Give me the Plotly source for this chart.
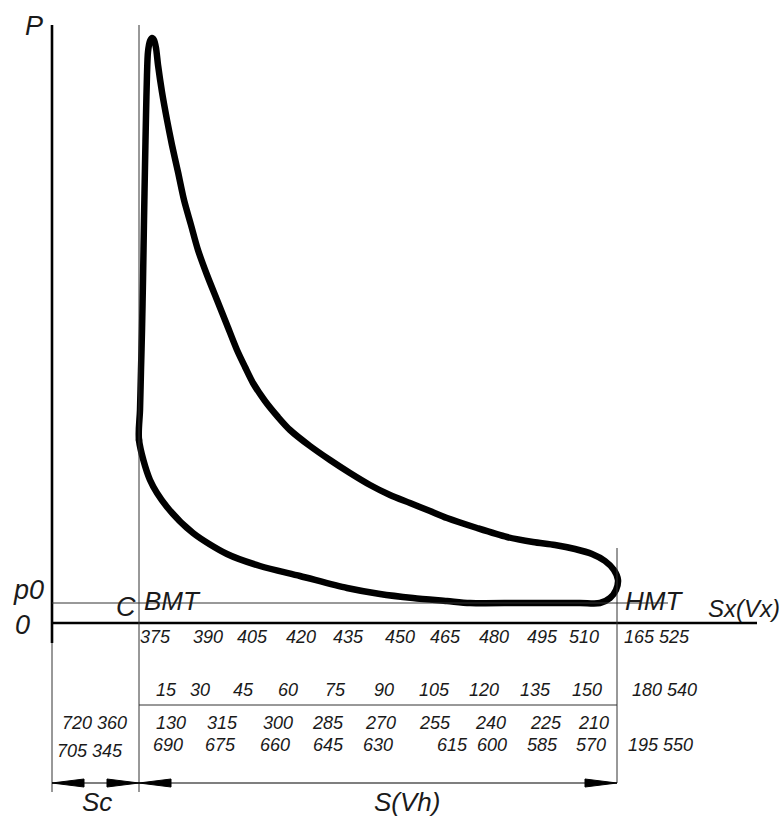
import plotly.graph_objects as go

# ---- data (S in % of stroke measured from the P axis, p in MPa) ----
SC = 18.2      # clearance (Sc)
SH = 100.0     # stroke (S / Vh)
P0 = 0.1       # ambient pressure p0

cycle_s = [18.20, 18.41, 18.62, 18.83, 19.04, 19.25, 19.46, 19.67, 19.87, 20.08,
           20.50, 20.92, 21.34, 21.76, 22.18, 23.01, 24.06, 25.10, 26.36, 27.62,
           29.08, 30.54, 32.43, 34.52, 36.61, 38.70, 40.38, 42.05, 44.56, 47.28,
           49.79, 53.97, 58.16, 62.34, 66.53, 70.71, 74.90, 79.08, 82.64, 88.91,
           95.19, 100.63, 105.23, 109.41, 112.97, 115.69, 117.57, 118.41, 117.99, 116.74,
           114.64, 110.46, 97.91, 87.45, 82.64, 75.52, 68.62, 61.72, 51.88, 43.51,
           36.61, 29.50, 24.06, 20.50, 18.20]
cycle_p = [0.915, 1.065, 1.265, 1.465, 1.715, 2.015, 2.29, 2.54, 2.74, 2.855,
           2.91, 2.925, 2.915, 2.875, 2.79, 2.655, 2.515, 2.39, 2.255, 2.115,
           1.99, 1.865, 1.74, 1.615, 1.49, 1.365, 1.28, 1.20, 1.11, 1.03,
           0.965, 0.885, 0.815, 0.75, 0.69, 0.64, 0.60, 0.56, 0.525, 0.475,
           0.43, 0.405, 0.39, 0.37, 0.345, 0.31, 0.265, 0.215, 0.165, 0.125,
           0.10, 0.10, 0.10, 0.10, 0.11, 0.125, 0.145, 0.175, 0.235, 0.285,
           0.345, 0.45, 0.58, 0.715, 0.915]

row1_labels = ["375", "390", "405", "420", "435", "450", "465", "480", "495", "510"]
row2_labels = ["15", "30", "45", "60", "75", "90", "105", "120", "135", "150"]
row3_labels = ["130", "315", "300", "285", "270", "255", "240", "225", "210"]
row4_labels = ["690", "675", "660", "645", "630", "615", "600", "585", "570"]
sc_labels = ["720 360", "705 345"]
hmt_labels = ["165 525", "180 540", "195 550"]

# ---- layout helpers (pixel placement of the drawing) ----
W, H = 784, 816
X0, KX = 52.0, 4.78     # px of S=0, px per unit of S
Y0, KY = 623.0, 200.0   # px of p=0, px per MPa


def X(px):
    return (px - X0) / KX


def Y(py):
    return (Y0 - py) / KY


FONT = "Liberation Sans, Arial, sans-serif"
INK = "#1a1a1a"

fig = go.Figure()
fig.add_trace(go.Scatter(
    x=cycle_s, y=cycle_p, mode="lines",
    line=dict(color="black", width=6.5, shape="spline", smoothing=0.8),
    hoverinfo="skip", showlegend=False))
fig.add_trace(go.Scatter(
    x=[cycle_s[0]], y=[cycle_p[0]], mode="markers",
    marker=dict(color="black", size=6.5, line=dict(width=0)),
    hoverinfo="skip", showlegend=False))

shapes = []


def line(x0, y0, x1, y1, w=1.0, color="#333"):
    shapes.append(dict(type="line", xref="x", yref="y", x0=x0, y0=y0, x1=x1, y1=y1,
                       line=dict(color=color, width=w)))


# axes
line(0, Y(643), 0, Y(25), w=2.6, color="black")
line(0, Y(643), 0, Y(792))
line(0, 0, X(757), 0, w=2.6, color="black")
line(0, P0, X(668), P0)
# BMT / HMT
line(SC, Y(25), SC, Y(792))
line(SC + SH, Y(548), SC + SH, Y(783))
# table divider
line(SC, Y(705), SC + SH, Y(705))
# dimension line
yd = Y(783)
line(0, yd, SC + SH, yd, w=1.2, color="black")

AL = 32 / KX    # arrow length (data units)
AH = 4 / KY     # arrow half-height


def arrow(xtip, direction):
    xb = xtip - direction * AL
    shapes.append(dict(type="path", xref="x", yref="y",
                       path=f"M {xtip} {yd} L {xb} {yd + AH} L {xb} {yd - AH} Z",
                       fillcolor="black", line=dict(color="black", width=1)))


arrow(0, -1)
arrow(SC, 1)
arrow(SC, -1)
arrow(SC + SH, 1)

ann = []


def text(px, py, s, size=18, anchor="center"):
    ann.append(dict(x=X(px), y=Y(py), xref="x", yref="y", text=s, showarrow=False,
                    xanchor=anchor, yanchor="middle",
                    font=dict(family=FONT, size=size, color=INK, style="italic")))


# axis labels
text(34, 26, "P", 27)
text(28, 590, "p0", 27)
text(22, 625, "0", 27)
text(126, 607, "C", 27)
text(172, 601, "BMT", 26)
text(654, 601, "HMT", 26)
text(782, 608, "Sx(Vx)", 24, anchor="right")
text(97, 802, "Sc", 26)
text(407, 802, "S(Vh)", 26)

r1x = [155, 208, 252, 301, 348, 400, 445, 494, 542, 584]
r2x = [166, 200, 243, 288, 335, 384, 434, 484, 535, 587]
r3x = [171, 222, 278, 328, 380, 435, 490, 546, 593]
r4x = [168, 220, 275, 328, 378, 452, 492, 542, 591]
for px, s in zip(r1x, row1_labels):
    text(px, 637, s)
for px, s in zip(r2x, row2_labels):
    text(px, 690, s)
for px, s in zip(r3x, row3_labels):
    text(px, 723, s)
for px, s in zip(r4x, row4_labels):
    text(px, 745, s)
text(94, 723, sc_labels[0])
text(90, 751, sc_labels[1])
text(657, 637, hmt_labels[0])
text(664, 690, hmt_labels[1])
text(660, 745, hmt_labels[2])

fig.update_layout(
    width=W, height=H, margin=dict(l=0, r=0, t=0, b=0),
    paper_bgcolor="white", plot_bgcolor="white",
    xaxis=dict(range=[X(0), X(W)], visible=False, fixedrange=True),
    yaxis=dict(range=[Y(H), Y(0)], visible=False, fixedrange=True),
    shapes=shapes, annotations=ann, showlegend=False)

fig.write_html("out.html")
